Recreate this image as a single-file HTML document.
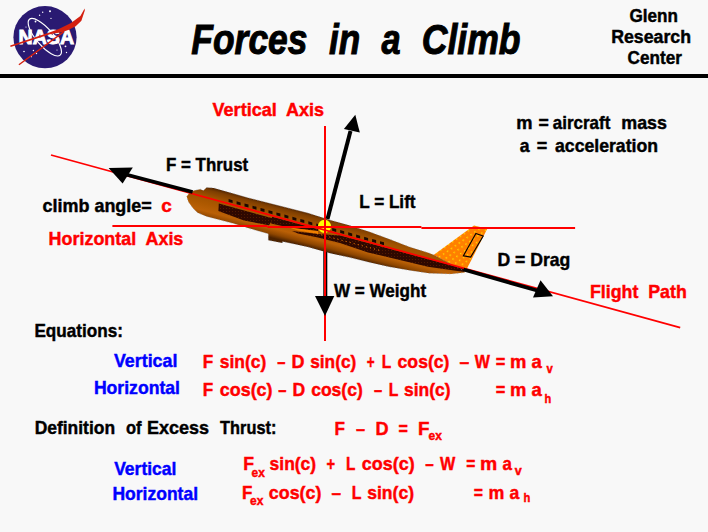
<!DOCTYPE html>
<html><head><meta charset="utf-8">
<style>
html,body{margin:0;padding:0;background:#f8f8f8;}
body{width:708px;height:532px;overflow:hidden;position:relative;}
svg{position:absolute;left:0;top:0;}
text{font-family:"Liberation Sans",sans-serif;font-weight:bold;}
</style></head><body>
<svg width="708" height="532" viewBox="0 0 708 532">
<defs>
<linearGradient id="fus" gradientUnits="userSpaceOnUse" x1="329.2" y1="217.6" x2="320.8" y2="250.4">
<stop offset="0" stop-color="#502400"/>
<stop offset="0.1" stop-color="#7e3e00"/>
<stop offset="0.3" stop-color="#a05200"/>
<stop offset="0.5" stop-color="#ac5800"/>
<stop offset="0.72" stop-color="#ba6006"/>
<stop offset="0.88" stop-color="#8e4600"/>
<stop offset="1" stop-color="#4c2200"/>
</linearGradient>
<pattern id="fdots" patternUnits="userSpaceOnUse" width="4.8" height="4.8" patternTransform="rotate(-35)">
<rect width="4.8" height="4.8" fill="#ff8000"/>
<rect x="1" y="1" width="1.3" height="1.3" fill="#ffee00"/>
</pattern>
<pattern id="bdots" patternUnits="userSpaceOnUse" width="3" height="3">
<rect width="3" height="3" fill="#2e0800"/>
<rect x="1" y="1" width="1" height="1" fill="#521a00"/>
</pattern>
</defs>
<!-- header line -->
<rect x="0" y="74" width="708" height="4" fill="#000"/>
<!-- NASA logo -->
<g id="nasa">
<ellipse cx="45" cy="37.2" rx="31.6" ry="31.1" fill="#2a1a72"/>
<g fill="#fff"><circle cx="42.7" cy="12.2" r="0.7"/><circle cx="50" cy="11.2" r="1"/><circle cx="39.6" cy="15.3" r="0.7"/><circle cx="51" cy="18.4" r="0.6"/><circle cx="35.5" cy="21.5" r="0.9"/><circle cx="65.5" cy="46.3" r="0.9"/><circle cx="33.4" cy="50.5" r="0.7"/><circle cx="36.5" cy="53.5" r="0.7"/><circle cx="24" cy="51.5" r="0.8"/><circle cx="31.4" cy="56.7" r="0.6"/><circle cx="66.5" cy="52.5" r="0.7"/><circle cx="57" cy="50" r="0.6"/><circle cx="26" cy="27" r="0.6"/></g>
<text id="t0" x="18.60" y="44.0" font-size="19.5" fill="#ffffff" stroke="#ffffff" stroke-width="0.9" textLength="55.47" lengthAdjust="spacingAndGlyphs" xml:space="preserve">NASA</text>
<ellipse cx="44.8" cy="37.2" rx="23.6" ry="8.4" fill="none" stroke="#fff" stroke-width="1.2" transform="rotate(49.4 44.8 37.2)"/>
<polygon fill="#d42010" points="10.2,45.6 49.4,32.4 58.8,29.1 71,23 80.4,16 84.6,8.5 84.8,10.5 81.4,20.7 75.7,26.3 68.2,30 62.6,32 50,34.2 10.6,47.1"/><line x1="18.9" y1="64.8" x2="64" y2="31.6" stroke="#d42010" stroke-width="1.4"/>
</g>

<!-- W line (under axis) -->
<rect x="323.3" y="245" width="4" height="52" fill="#000"/>

<!-- plane -->
<g id="plane">
<polygon points="433.5,255 474,225.5 487.3,228.8 466,270.5 464.7,272" fill="url(#fdots)"/>
<polygon points="475.9,233.4 483.2,236 470.7,257.1 463.4,255.8" fill="none" stroke="#000" stroke-width="1.1"/>
<polygon fill="url(#fus)" points="186.7,196.5 189.4,192.9 194,190.6 200.3,189.2 203.4,190.6 206.6,187.6 213.8,187.9 248,197.8 308,213.1 330,220 350,225.6 370,232 389,239 409,246.8 429,253.1 434,255 464.7,271.2 464.7,272.5 451,273.9 429,273.2 409,270.3 389,266.8 370,262.5 350,257.6 330,253.2 308,247 282.4,241.4 282.4,243 268.3,240.2 268.3,233.8 248,228.1 233.7,223.6 220.2,220 206.6,216.4 197.6,212.7 193,208.2 188.5,201.9"/>
<!-- dark band left -->
<polygon fill="url(#bdots)" points="218.8,203.6 273.3,218.4 269,225.3 244,220.5 218.4,210.9"/>
<polygon fill="url(#bdots)" points="272,216.8 318,229.3 318,231 313,230.4 289,227.5 271,223.6"/>
<!-- light orange stripe -->
<polygon fill="#f08000" points="289,227.5 313,230.4 318,231 318,234 313,233 298,230.4"/>
<!-- dark band right -->
<polygon fill="url(#bdots)" points="292,231 318,234 340,235.5 464,268.6 464.5,272 428,266.8 368,252.4 340,243 318,237.5 298,233.5"/>
<line x1="305" y1="230.5" x2="382" y2="251" stroke="#ff8000" stroke-width="1" stroke-dasharray="1 3.2"/>
<g fill="#1a0800" id="wins"><polygon points="228.6,199.1 232.6,200.2 232.6,203.1 228.6,202.0"/><polygon points="236.6,201.3 240.6,202.4 240.6,205.3 236.6,204.2"/><polygon points="244.5,203.5 248.5,204.6 248.5,207.5 244.5,206.4"/><polygon points="252.5,205.7 256.5,206.8 256.5,209.7 252.5,208.6"/><polygon points="260.5,208.0 264.5,209.1 264.5,212.0 260.5,210.9"/><polygon points="268.5,210.2 272.5,211.3 272.5,214.2 268.5,213.1"/><polygon points="276.4,212.4 280.4,213.5 280.4,216.4 276.4,215.3"/><polygon points="284.4,214.6 288.4,215.7 288.4,218.6 284.4,217.5"/><polygon points="292.4,216.8 296.4,217.9 296.4,220.8 292.4,219.7"/><polygon points="300.3,219.0 304.3,220.1 304.3,223.0 300.3,221.9"/><polygon points="308.3,221.3 312.3,222.4 312.3,225.3 308.3,224.2"/><polygon points="316.3,223.5 320.3,224.6 320.3,227.5 316.3,226.4"/><polygon points="324.2,225.7 328.2,226.8 328.2,229.7 324.2,228.6"/><polygon points="332.2,227.9 336.2,229.0 336.2,231.9 332.2,230.8"/><polygon points="340.2,230.1 344.2,231.2 344.2,234.1 340.2,233.0"/><polygon points="348.2,232.3 352.2,233.4 352.2,236.3 348.2,235.2"/><polygon points="356.1,234.6 360.1,235.7 360.1,238.6 356.1,237.5"/><polygon points="364.1,236.8 368.1,237.9 368.1,240.8 364.1,239.7"/><polygon points="372.1,239.0 376.1,240.1 376.1,243.0 372.1,241.9"/><polygon points="380.0,241.2 384.0,242.3 384.0,245.2 380.0,244.1"/></g>
<polygon fill="none" stroke="#8090a8" stroke-width="0.9" stroke-dasharray="0.9 3.1" opacity="0.8" points="186.7,196.5 189.4,192.9 194,190.6 200.3,189.2 203.4,190.6 206.6,187.6 213.8,187.9 248,197.8 308,213.1 330,220 350,225.6 370,232 389,239 409,246.8 429,253.1 434,255 464.7,271.2 464.7,272.5 451,273.9 429,273.2 409,270.3 389,266.8 370,262.5 350,257.6 330,253.2 308,247 282.4,241.4 282.4,243 268.3,240.2 268.3,233.8 248,228.1 233.7,223.6 220.2,220 206.6,216.4 197.6,212.7 193,208.2 188.5,201.9"/>
</g>

<!-- yellow circle -->
<circle cx="324.5" cy="226.4" r="6.6" fill="#ffff00"/>
<!-- axes -->
<rect x="324" y="126" width="2" height="215" fill="#ff0000"/>
<rect x="112.4" y="225" width="155" height="2" fill="#ff0000"/>
<rect x="267.4" y="226" width="154" height="2" fill="#ff0000"/>
<rect x="421.4" y="227" width="153.7" height="2" fill="#ff0000"/>
<!-- flight path -->
<line x1="51" y1="155" x2="680.2" y2="327.6" stroke="#ff0000" stroke-width="1.7"/>
<!-- forces -->
<line x1="192.6" y1="192" x2="126" y2="174.5" stroke="#000" stroke-width="3.7"/>
<polygon points="108.6,167.9 132.8,167.4 122.6,183.6" fill="#000"/>
<line x1="327.5" y1="219" x2="350.5" y2="131" stroke="#000" stroke-width="4"/>
<polygon points="355.3,114.8 343.9,129.1 359.8,132.4" fill="#000"/>
<line x1="463.5" y1="269.5" x2="538" y2="290.8" stroke="#000" stroke-width="3.7"/>
<polygon points="553,296.3 540.5,280.2 533,297.5" fill="#000"/>
<polygon points="315,295.9 334.3,295.9 325,316" fill="#000"/>

<text id="t1" x="191.37" y="54.3" font-size="42.5" fill="#000000" font-style="italic" stroke="#000" stroke-width="1" textLength="116.11" lengthAdjust="spacingAndGlyphs" xml:space="preserve">Forces</text>
<text id="t2" x="329.00" y="54.3" font-size="42.5" fill="#000000" font-style="italic" stroke="#000" stroke-width="1" textLength="31.25" lengthAdjust="spacingAndGlyphs" xml:space="preserve">in</text>
<text id="t3" x="381.45" y="54.3" font-size="42.5" fill="#000000" font-style="italic" stroke="#000" stroke-width="1" textLength="19.11" lengthAdjust="spacingAndGlyphs" xml:space="preserve">a</text>
<text id="t4" x="421.71" y="54.3" font-size="42.5" fill="#000000" font-style="italic" stroke="#000" stroke-width="1" textLength="98.79" lengthAdjust="spacingAndGlyphs" xml:space="preserve">Climb</text>
<text id="t5" x="629.58" y="22.0" font-size="18" fill="#000000" stroke="#000000" stroke-width="0.45" textLength="48.41" lengthAdjust="spacingAndGlyphs" xml:space="preserve">Glenn</text>
<text id="t6" x="611.21" y="42.6" font-size="18" fill="#000000" stroke="#000000" stroke-width="0.45" textLength="79.85" lengthAdjust="spacingAndGlyphs" xml:space="preserve">Research</text>
<text id="t7" x="627.61" y="64.0" font-size="18" fill="#000000" stroke="#000000" stroke-width="0.45" textLength="54.21" lengthAdjust="spacingAndGlyphs" xml:space="preserve">Center</text>
<text id="t8" x="212.58" y="116.4" font-size="19" fill="#ff0000" stroke="#ff0000" stroke-width="0.45" textLength="111.51" lengthAdjust="spacingAndGlyphs" xml:space="preserve">Vertical  Axis</text>
<text id="t9" x="516.22" y="129.1" font-size="19" fill="#000000" stroke="#000000" stroke-width="0.45" textLength="16.27" lengthAdjust="spacingAndGlyphs" xml:space="preserve">m</text>
<text id="t10" x="538.61" y="129.1" font-size="19" fill="#000000" stroke="#000000" stroke-width="0.45" textLength="10.30" lengthAdjust="spacingAndGlyphs" xml:space="preserve">=</text>
<text id="t11" x="552.81" y="129.1" font-size="19" fill="#000000" stroke="#000000" stroke-width="0.45" textLength="57.48" lengthAdjust="spacingAndGlyphs" xml:space="preserve">aircraft</text>
<text id="t12" x="621.22" y="129.1" font-size="19" fill="#000000" stroke="#000000" stroke-width="0.45" textLength="45.77" lengthAdjust="spacingAndGlyphs" xml:space="preserve">mass</text>
<text id="t13" x="519.81" y="151.9" font-size="19" fill="#000000" stroke="#000000" stroke-width="0.45" textLength="9.81" lengthAdjust="spacingAndGlyphs" xml:space="preserve">a</text>
<text id="t14" x="536.81" y="151.9" font-size="19" fill="#000000" stroke="#000000" stroke-width="0.45" textLength="10.50" lengthAdjust="spacingAndGlyphs" xml:space="preserve">=</text>
<text id="t15" x="555.00" y="151.9" font-size="19" fill="#000000" stroke="#000000" stroke-width="0.45" textLength="103.04" lengthAdjust="spacingAndGlyphs" xml:space="preserve">acceleration</text>
<text id="t16" x="166.06" y="171.1" font-size="19" fill="#000000" stroke="#000000" stroke-width="0.45" textLength="82.13" lengthAdjust="spacingAndGlyphs" xml:space="preserve">F = Thrust</text>
<text id="t17" x="42.58" y="212.4" font-size="19" fill="#000000" stroke="#000000" stroke-width="0.45" textLength="109.15" lengthAdjust="spacingAndGlyphs" xml:space="preserve">climb angle=</text>
<text id="t18" x="161.20" y="212.4" font-size="19" fill="#ff0000" stroke="#ff0000" stroke-width="0.45" textLength="10.58" lengthAdjust="spacingAndGlyphs" xml:space="preserve">c</text>
<text id="t19" x="48.61" y="245.1" font-size="19" fill="#ff0000" stroke="#ff0000" stroke-width="0.45" textLength="134.73" lengthAdjust="spacingAndGlyphs" xml:space="preserve">Horizontal  Axis</text>
<text id="t20" x="359.24" y="208.2" font-size="19" fill="#000000" stroke="#000000" stroke-width="0.45" textLength="56.32" lengthAdjust="spacingAndGlyphs" xml:space="preserve">L = Lift</text>
<text id="t21" x="497.42" y="265.7" font-size="19" fill="#000000" stroke="#000000" stroke-width="0.45" textLength="72.92" lengthAdjust="spacingAndGlyphs" xml:space="preserve">D = Drag</text>
<text id="t22" x="334.00" y="296.5" font-size="19" fill="#000000" stroke="#000000" stroke-width="0.45" textLength="92.11" lengthAdjust="spacingAndGlyphs" xml:space="preserve">W = Weight</text>
<text id="t23" x="590.03" y="298.3" font-size="19" fill="#ff0000" stroke="#ff0000" stroke-width="0.45" textLength="96.74" lengthAdjust="spacingAndGlyphs" xml:space="preserve">Flight  Path</text>
<text id="t24" x="34.43" y="336.6" font-size="19" fill="#000000" stroke="#000000" stroke-width="0.45" textLength="88.46" lengthAdjust="spacingAndGlyphs" xml:space="preserve">Equations:</text>
<text id="t25" x="113.97" y="367.4" font-size="19" fill="#0000ff" stroke="#0000ff" stroke-width="0.45" textLength="63.37" lengthAdjust="spacingAndGlyphs" xml:space="preserve">Vertical</text>
<text id="t26" x="93.88" y="394.0" font-size="19" fill="#0000ff" stroke="#0000ff" stroke-width="0.45" textLength="86.15" lengthAdjust="spacingAndGlyphs" xml:space="preserve">Horizontal</text>
<text id="t27" x="202.86" y="367.7" font-size="19" fill="#ff0000" stroke="#ff0000" stroke-width="0.45" textLength="10.45" lengthAdjust="spacingAndGlyphs" xml:space="preserve">F</text>
<text id="t28" x="219.81" y="367.7" font-size="19" fill="#ff0000" stroke="#ff0000" stroke-width="0.45" textLength="46.53" lengthAdjust="spacingAndGlyphs" xml:space="preserve">sin(c)</text>
<text id="t29" x="277.18" y="367.7" font-size="19" fill="#ff0000" stroke="#ff0000" stroke-width="0.45" textLength="8.17" lengthAdjust="spacingAndGlyphs" xml:space="preserve">–</text>
<text id="t30" x="291.61" y="367.7" font-size="19" fill="#ff0000" stroke="#ff0000" stroke-width="0.45" textLength="12.99" lengthAdjust="spacingAndGlyphs" xml:space="preserve">D</text>
<text id="t31" x="310.19" y="367.7" font-size="19" fill="#ff0000" stroke="#ff0000" stroke-width="0.45" textLength="46.13" lengthAdjust="spacingAndGlyphs" xml:space="preserve">sin(c)</text>
<text id="t32" x="366.83" y="367.7" font-size="19" fill="#ff0000" stroke="#ff0000" stroke-width="0.45" textLength="7.88" lengthAdjust="spacingAndGlyphs" xml:space="preserve">+</text>
<text id="t33" x="381.64" y="367.7" font-size="19" fill="#ff0000" stroke="#ff0000" stroke-width="0.45" textLength="9.50" lengthAdjust="spacingAndGlyphs" xml:space="preserve">L</text>
<text id="t34" x="397.58" y="367.7" font-size="19" fill="#ff0000" stroke="#ff0000" stroke-width="0.45" textLength="51.87" lengthAdjust="spacingAndGlyphs" xml:space="preserve">cos(c)</text>
<text id="t35" x="459.42" y="367.7" font-size="19" fill="#ff0000" stroke="#ff0000" stroke-width="0.45" textLength="9.73" lengthAdjust="spacingAndGlyphs" xml:space="preserve">–</text>
<text id="t36" x="474.82" y="367.7" font-size="19" fill="#ff0000" stroke="#ff0000" stroke-width="0.45" textLength="15.15" lengthAdjust="spacingAndGlyphs" xml:space="preserve">W</text>
<text id="t37" x="495.63" y="367.7" font-size="19" fill="#ff0000" stroke="#ff0000" stroke-width="0.45" textLength="9.59" lengthAdjust="spacingAndGlyphs" xml:space="preserve">=</text>
<text id="t38" x="510.02" y="367.7" font-size="19" fill="#ff0000" stroke="#ff0000" stroke-width="0.45" textLength="16.38" lengthAdjust="spacingAndGlyphs" xml:space="preserve">m</text>
<text id="t39" x="531.41" y="367.7" font-size="19" fill="#ff0000" stroke="#ff0000" stroke-width="0.45" textLength="10.29" lengthAdjust="spacingAndGlyphs" xml:space="preserve">a</text>
<text id="t40" x="546.55" y="372.6" font-size="12" fill="#ff0000" stroke="#ff0000" stroke-width="0.45" textLength="6.27" lengthAdjust="spacingAndGlyphs" xml:space="preserve">v</text>
<text id="t41" x="202.86" y="395.6" font-size="19" fill="#ff0000" stroke="#ff0000" stroke-width="0.45" textLength="10.45" lengthAdjust="spacingAndGlyphs" xml:space="preserve">F</text>
<text id="t42" x="219.81" y="395.6" font-size="19" fill="#ff0000" stroke="#ff0000" stroke-width="0.45" textLength="52.71" lengthAdjust="spacingAndGlyphs" xml:space="preserve">cos(c)</text>
<text id="t43" x="278.35" y="395.6" font-size="19" fill="#ff0000" stroke="#ff0000" stroke-width="0.45" textLength="8.17" lengthAdjust="spacingAndGlyphs" xml:space="preserve">–</text>
<text id="t44" x="292.62" y="395.6" font-size="19" fill="#ff0000" stroke="#ff0000" stroke-width="0.45" textLength="12.68" lengthAdjust="spacingAndGlyphs" xml:space="preserve">D</text>
<text id="t45" x="311.19" y="395.6" font-size="19" fill="#ff0000" stroke="#ff0000" stroke-width="0.45" textLength="51.57" lengthAdjust="spacingAndGlyphs" xml:space="preserve">cos(c)</text>
<text id="t46" x="374.00" y="395.6" font-size="19" fill="#ff0000" stroke="#ff0000" stroke-width="0.45" textLength="8.17" lengthAdjust="spacingAndGlyphs" xml:space="preserve">–</text>
<text id="t47" x="388.63" y="395.6" font-size="19" fill="#ff0000" stroke="#ff0000" stroke-width="0.45" textLength="9.60" lengthAdjust="spacingAndGlyphs" xml:space="preserve">L</text>
<text id="t48" x="404.00" y="395.6" font-size="19" fill="#ff0000" stroke="#ff0000" stroke-width="0.45" textLength="46.53" lengthAdjust="spacingAndGlyphs" xml:space="preserve">sin(c)</text>
<text id="t49" x="495.63" y="395.6" font-size="19" fill="#ff0000" stroke="#ff0000" stroke-width="0.45" textLength="9.59" lengthAdjust="spacingAndGlyphs" xml:space="preserve">=</text>
<text id="t50" x="510.02" y="395.6" font-size="19" fill="#ff0000" stroke="#ff0000" stroke-width="0.45" textLength="16.38" lengthAdjust="spacingAndGlyphs" xml:space="preserve">m</text>
<text id="t51" x="531.41" y="395.6" font-size="19" fill="#ff0000" stroke="#ff0000" stroke-width="0.45" textLength="10.29" lengthAdjust="spacingAndGlyphs" xml:space="preserve">a</text>
<text id="t52" x="544.62" y="403.0" font-size="12" fill="#ff0000" stroke="#ff0000" stroke-width="0.45" textLength="6.71" lengthAdjust="spacingAndGlyphs" xml:space="preserve">h</text>
<text id="t53" x="34.66" y="433.6" font-size="19" fill="#000000" stroke="#000000" stroke-width="0.45" textLength="80.38" lengthAdjust="spacingAndGlyphs" xml:space="preserve">Definition</text>
<text id="t54" x="126.00" y="433.6" font-size="19" fill="#000000" stroke="#000000" stroke-width="0.45" textLength="15.58" lengthAdjust="spacingAndGlyphs" xml:space="preserve">of</text>
<text id="t55" x="147.05" y="433.6" font-size="19" fill="#000000" stroke="#000000" stroke-width="0.45" textLength="62.04" lengthAdjust="spacingAndGlyphs" xml:space="preserve">Excess</text>
<text id="t56" x="220.12" y="433.6" font-size="19" fill="#000000" stroke="#000000" stroke-width="0.45" textLength="56.28" lengthAdjust="spacingAndGlyphs" xml:space="preserve">Thrust:</text>
<text id="t57" x="334.62" y="435.1" font-size="19" fill="#ff0000" stroke="#ff0000" stroke-width="0.45" textLength="10.45" lengthAdjust="spacingAndGlyphs" xml:space="preserve">F</text>
<text id="t58" x="356.11" y="435.1" font-size="19" fill="#ff0000" stroke="#ff0000" stroke-width="0.45" textLength="9.04" lengthAdjust="spacingAndGlyphs" xml:space="preserve">–</text>
<text id="t59" x="375.61" y="435.1" font-size="19" fill="#ff0000" stroke="#ff0000" stroke-width="0.45" textLength="13.10" lengthAdjust="spacingAndGlyphs" xml:space="preserve">D</text>
<text id="t60" x="398.45" y="435.1" font-size="19" fill="#ff0000" stroke="#ff0000" stroke-width="0.45" textLength="9.39" lengthAdjust="spacingAndGlyphs" xml:space="preserve">=</text>
<text id="t61" x="418.00" y="435.1" font-size="19" fill="#ff0000" stroke="#ff0000" stroke-width="0.45" textLength="11.50" lengthAdjust="spacingAndGlyphs" xml:space="preserve">F</text>
<text id="t62" x="428.61" y="439.7" font-size="12.5" fill="#ff0000" stroke="#ff0000" stroke-width="0.45" textLength="13.31" lengthAdjust="spacingAndGlyphs" xml:space="preserve">ex</text>
<text id="t63" x="114.15" y="474.8" font-size="19" fill="#0000ff" stroke="#0000ff" stroke-width="0.45" textLength="62.34" lengthAdjust="spacingAndGlyphs" xml:space="preserve">Vertical</text>
<text id="t64" x="112.42" y="500.3" font-size="19" fill="#0000ff" stroke="#0000ff" stroke-width="0.45" textLength="85.62" lengthAdjust="spacingAndGlyphs" xml:space="preserve">Horizontal</text>
<text id="t65" x="243.23" y="469.8" font-size="19" fill="#ff0000" stroke="#ff0000" stroke-width="0.45" textLength="10.77" lengthAdjust="spacingAndGlyphs" xml:space="preserve">F</text>
<text id="t66" x="251.61" y="476.8" font-size="12.5" fill="#ff0000" stroke="#ff0000" stroke-width="0.45" textLength="13.21" lengthAdjust="spacingAndGlyphs" xml:space="preserve">ex</text>
<text id="t67" x="269.62" y="469.8" font-size="19" fill="#ff0000" stroke="#ff0000" stroke-width="0.45" textLength="46.53" lengthAdjust="spacingAndGlyphs" xml:space="preserve">sin(c)</text>
<text id="t68" x="326.47" y="469.8" font-size="19" fill="#ff0000" stroke="#ff0000" stroke-width="0.45" textLength="8.58" lengthAdjust="spacingAndGlyphs" xml:space="preserve">+</text>
<text id="t69" x="346.01" y="469.8" font-size="19" fill="#ff0000" stroke="#ff0000" stroke-width="0.45" textLength="9.39" lengthAdjust="spacingAndGlyphs" xml:space="preserve">L</text>
<text id="t70" x="361.83" y="469.8" font-size="19" fill="#ff0000" stroke="#ff0000" stroke-width="0.45" textLength="52.81" lengthAdjust="spacingAndGlyphs" xml:space="preserve">cos(c)</text>
<text id="t71" x="425.18" y="469.8" font-size="19" fill="#ff0000" stroke="#ff0000" stroke-width="0.45" textLength="8.46" lengthAdjust="spacingAndGlyphs" xml:space="preserve">–</text>
<text id="t72" x="440.00" y="469.8" font-size="19" fill="#ff0000" stroke="#ff0000" stroke-width="0.45" textLength="15.25" lengthAdjust="spacingAndGlyphs" xml:space="preserve">W</text>
<text id="t73" x="466.18" y="469.8" font-size="19" fill="#ff0000" stroke="#ff0000" stroke-width="0.45" textLength="9.09" lengthAdjust="spacingAndGlyphs" xml:space="preserve">=</text>
<text id="t74" x="479.98" y="469.8" font-size="19" fill="#ff0000" stroke="#ff0000" stroke-width="0.45" textLength="17.24" lengthAdjust="spacingAndGlyphs" xml:space="preserve">m</text>
<text id="t75" x="502.38" y="469.8" font-size="19" fill="#ff0000" stroke="#ff0000" stroke-width="0.45" textLength="9.43" lengthAdjust="spacingAndGlyphs" xml:space="preserve">a</text>
<text id="t76" x="514.80" y="475.4" font-size="12" fill="#ff0000" stroke="#ff0000" stroke-width="0.45" textLength="6.97" lengthAdjust="spacingAndGlyphs" xml:space="preserve">v</text>
<text id="t77" x="242.11" y="499.0" font-size="19" fill="#ff0000" stroke="#ff0000" stroke-width="0.45" textLength="10.34" lengthAdjust="spacingAndGlyphs" xml:space="preserve">F</text>
<text id="t78" x="250.00" y="504.8" font-size="12.5" fill="#ff0000" stroke="#ff0000" stroke-width="0.45" textLength="13.31" lengthAdjust="spacingAndGlyphs" xml:space="preserve">ex</text>
<text id="t79" x="268.84" y="499.0" font-size="19" fill="#ff0000" stroke="#ff0000" stroke-width="0.45" textLength="52.51" lengthAdjust="spacingAndGlyphs" xml:space="preserve">cos(c)</text>
<text id="t80" x="331.62" y="499.0" font-size="19" fill="#ff0000" stroke="#ff0000" stroke-width="0.45" textLength="9.52" lengthAdjust="spacingAndGlyphs" xml:space="preserve">–</text>
<text id="t81" x="351.63" y="499.0" font-size="19" fill="#ff0000" stroke="#ff0000" stroke-width="0.45" textLength="9.71" lengthAdjust="spacingAndGlyphs" xml:space="preserve">L</text>
<text id="t82" x="367.19" y="499.0" font-size="19" fill="#ff0000" stroke="#ff0000" stroke-width="0.45" textLength="46.84" lengthAdjust="spacingAndGlyphs" xml:space="preserve">sin(c)</text>
<text id="t83" x="473.82" y="499.0" font-size="19" fill="#ff0000" stroke="#ff0000" stroke-width="0.45" textLength="9.19" lengthAdjust="spacingAndGlyphs" xml:space="preserve">=</text>
<text id="t84" x="488.45" y="499.0" font-size="19" fill="#ff0000" stroke="#ff0000" stroke-width="0.45" textLength="15.85" lengthAdjust="spacingAndGlyphs" xml:space="preserve">m</text>
<text id="t85" x="509.61" y="499.0" font-size="19" fill="#ff0000" stroke="#ff0000" stroke-width="0.45" textLength="9.81" lengthAdjust="spacingAndGlyphs" xml:space="preserve">a</text>
<text id="t86" x="523.42" y="501.7" font-size="12" fill="#ff0000" stroke="#ff0000" stroke-width="0.45" textLength="6.82" lengthAdjust="spacingAndGlyphs" xml:space="preserve">h</text>
</svg>
</body></html>
